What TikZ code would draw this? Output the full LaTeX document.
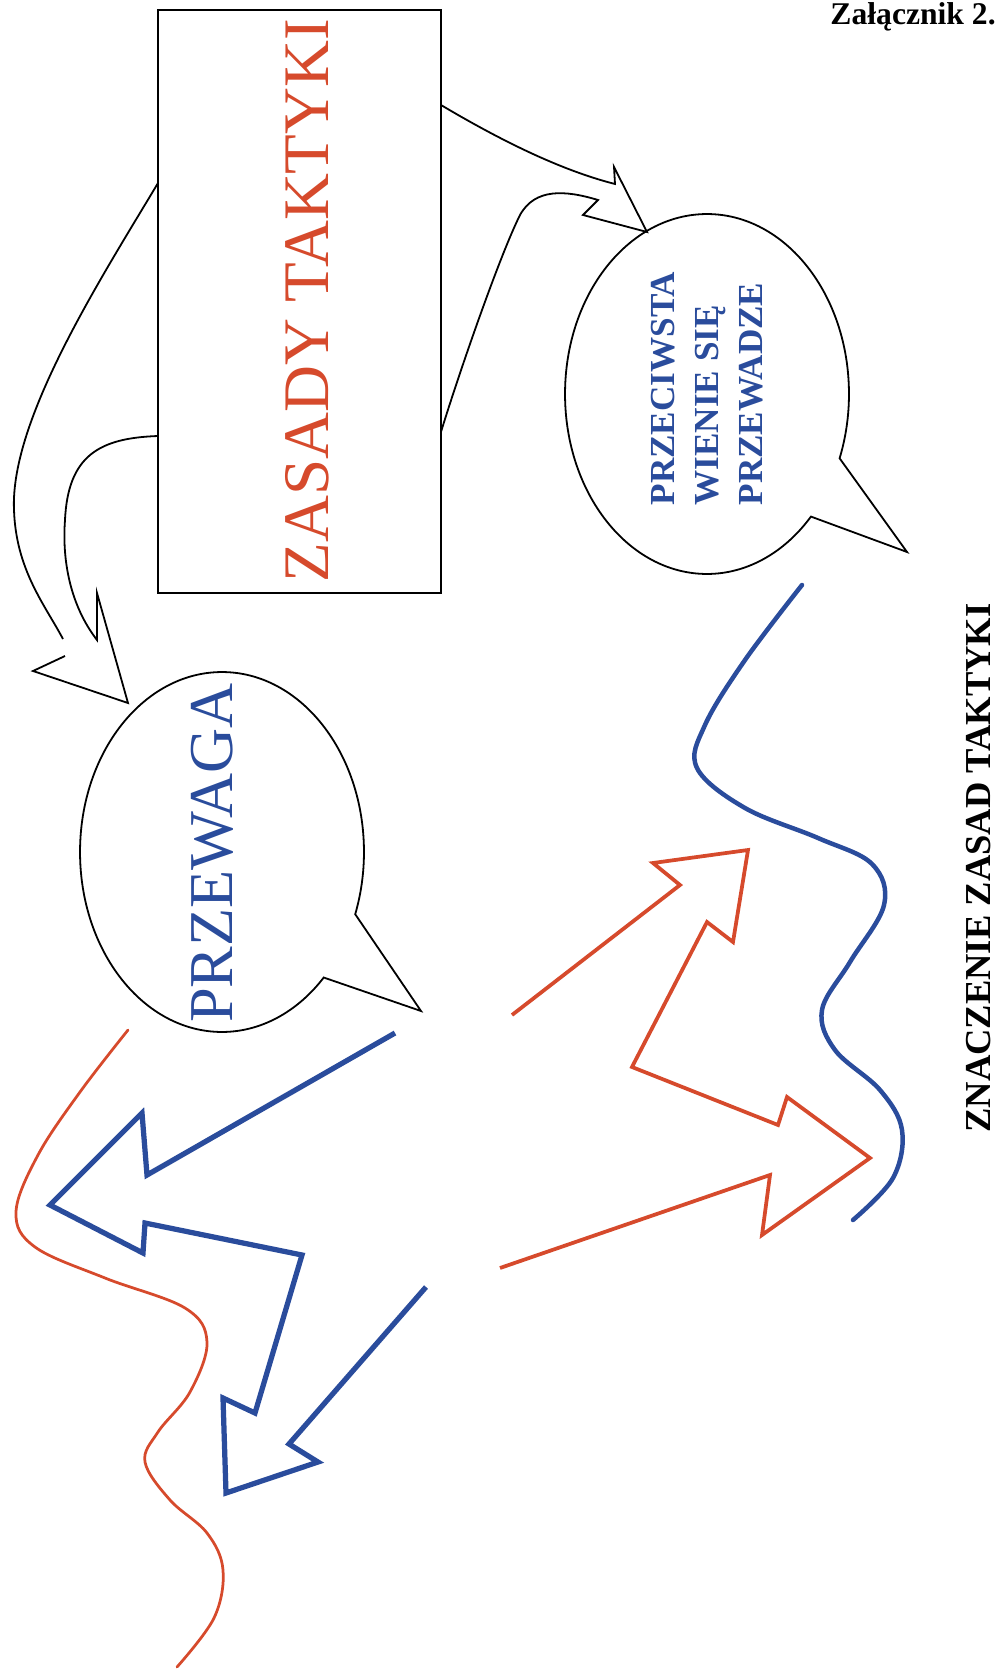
\documentclass[tikz,border=0pt]{standalone}
\usepackage{fontspec}
\setmainfont{Liberation Serif}
\usepackage{xcolor}
\usetikzlibrary{calc,positioning,shapes.callouts}

\begin{document}
\begin{tikzpicture}[x=0.020000cm,y=-0.020000cm]
                    \useasboundingbox (0.000000,0.000000) rectangle (997.000000,1670.000000);%

                    % Changing color 0 0 0
                    \definecolor{r0g0b0}{rgb}{0.000000,0.000000,0.000000}%
                    \color{r0g0b0}%

                    % Writing title
                    \node (zal) [anchor=base east, inner sep=0pt, font=\bfseries\fontsize{18}{21}\selectfont] at (996.000000,25.000000) {Załącznik 2.};%

                    % Drawing box Z
                    \node (zasady) [draw, line width=0.036cm, inner sep=0pt, outer sep=0pt, minimum width=5.660000cm, minimum height=11.660000cm] at (299.500000,301.500000) {};%

                    % Drawing callout P (right)
                    \node (przeciw) [ellipse callout, draw, line width=0.036cm, inner sep=0pt, outer sep=0pt, minimum width=5.680000cm, minimum height=7.200000cm, callout absolute pointer={(907.000000,552.000000)}, callout pointer arc=22] at (707.000000,394.000000) {};%

                    % Drawing callout W (left)
                    \node (przewaga) [ellipse callout, draw, line width=0.036cm, inner sep=0pt, outer sep=0pt, minimum width=5.680000cm, minimum height=7.200000cm, callout absolute pointer={(421.000000,1011.000000)}, callout pointer arc=24] at (222.000000,852.000000) {};%

                    % Drawing arrow Z P
                    \draw [line width=0.036cm, line join=miter] (zasady.east |- 0,105) .. controls (500,140) and (560,170) .. (615,184) -- (614,167) -- (647,232) -- (583,215) -- (598,200) .. controls (565,190) and (535,188) .. (520,215) .. controls (500,255) and (460,370) .. (zasady.east |- 0,432);%

                    % Drawing arrow Z W
                    \draw [line width=0.036cm, line join=miter] (zasady.west |- 0,183) .. controls (100,280) and (10,420) .. (14,510) .. controls (16,570) and (45,605) .. (63,639) (65,656) -- (33,671) -- (128,703) -- (97,593) -- (97,640) .. controls (70,605) and (62,560) .. (65,520) .. controls (68,455) and (100,438) .. (zasady.west |- 0,436);%

                    % Writing text in box Z
                    \definecolor{r214g74b44}{rgb}{0.839216,0.290196,0.172549}%
                    \node (zasadytxt) [rotate=90, inner sep=0pt, text=r214g74b44, font=\fontsize{37}{44}\selectfont] at (307.500000,300.500000) {ZASADY TAKTYKI};%

                    % Changing color 42 76 156
                    \definecolor{r42g76b156}{rgb}{0.164706,0.298039,0.611765}%
                    \color{r42g76b156}%

                    % Writing text in callout P
                    \node (przeciwtxt) [rotate=90, inner sep=0pt, align=left, font=\bfseries\fontsize{20}{25}\selectfont] at (707.500000,388.500000) {PRZECIWSTA\\WIENIE SIĘ\\PRZEWADZE};%

                    % Writing text in callout W
                    \node (przewagatxt) [rotate=90, inner sep=0pt, font=\fontsize{35.5}{41}\selectfont] at (212.000000,853.000000) {PRZEWAGA};%

                    % Drawing blue arrow (left)
                    \draw [line width=0.105cm, line join=miter] (395,1033) -- (147,1175) -- (142,1113) -- (50,1205) -- (143,1253) -- (145,1223) -- (302,1255) -- (255,1413) -- (223,1398) -- (226,1493) -- (318,1462) -- (289,1444) -- (426,1287);%

                    % Drawing blue line (right)
                    \draw [line width=0.090cm, line cap=round] plot[smooth, tension=0.6] coordinates {(802,585) (745,660) (705,725) (697,768) (745,808) (818,838) (872,864) (884,905) (850,962) (822,1010) (835,1050) (880,1090) (902,1130) (893,1178) (853,1220)};%

                    % Changing color 214 74 44
                    \color{r214g74b44}%

                    % Drawing red arrow (right)
                    \draw [line width=0.075cm, line join=miter] (512,1015) -- (680,885) -- (653,863) -- (748,850) -- (733,942) -- (707,922) -- (632,1067) -- (778,1125) -- (787,1097) -- (870,1158) -- (762,1235) -- (770,1175) -- (500,1268);%

                    % Drawing red line (left)
                    \draw [line width=0.055cm, line cap=round] plot[smooth, tension=0.6] coordinates {(128,1030) (80,1092) (38,1155) (16,1212) (35,1247) (105,1278) (185,1308) (207,1342) (190,1392) (158,1432) (145,1462) (170,1500) (207,1533) (223,1570) (214,1618) (177,1667)};%

                    % Changing color 0 0 0
                    \color{r0g0b0}%

                    % Writing caption
                    \node (znaczenie) [rotate=90, inner sep=0pt, font=\bfseries\fontsize{20.8}{25}\selectfont] at (979.000000,868.000000) {ZNACZENIE ZASAD TAKTYKI};%
\end{tikzpicture}
\end{document}
